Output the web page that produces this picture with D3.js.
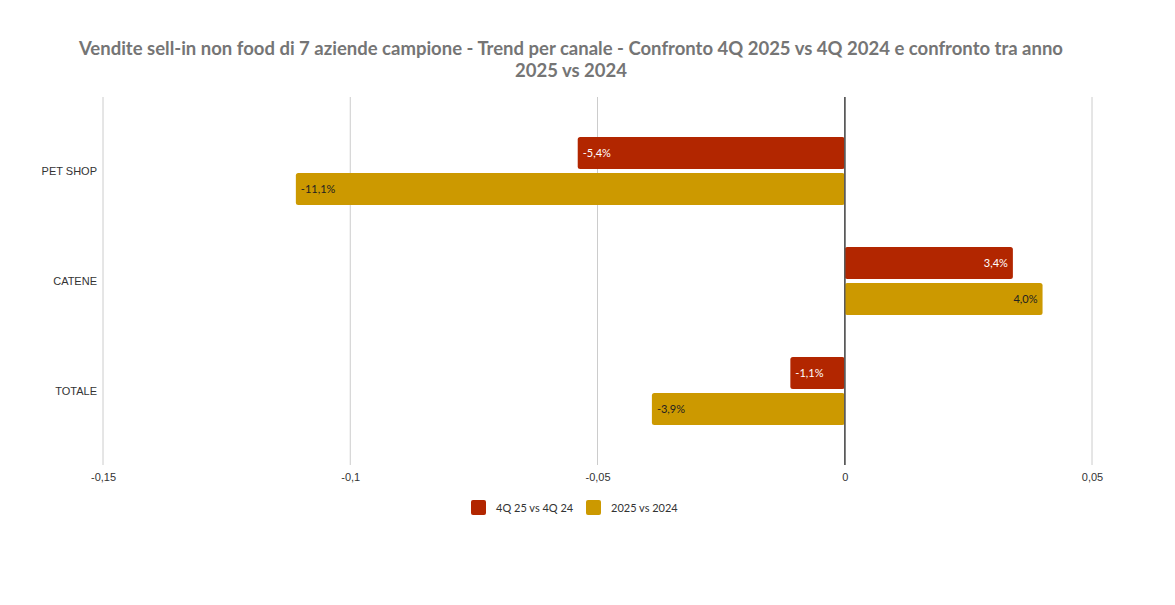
<!DOCTYPE html>
<html>
<head>
<meta charset="utf-8">
<script src="https://cdn.jsdelivr.net/npm/d3@7"></script>
<style>
  body { margin: 0; background: #fff; }
  svg { font-family: Lato, "Open Sans", sans-serif; }
</style>
</head>
<body>
<div id="chart"></div>
<script>
// data
var categories = ["PET SHOP", "CATENE", "TOTALE"];
var seriesNames = ["4Q 25 vs 4Q 24", "2025 vs 2024"];
var quarterValues = [-0.054, 0.034, -0.011];
var yearValues = [-0.111, 0.040, -0.039];
var tickValues = [-0.15, -0.1, -0.05, 0, 0.05];
var colors = ["#B22600", "#CC9900"];

var W = 1175, H = 605;
var plot = { left: 103, right: 1092, top: 97, bottom: 465, bandTop: 116, bandBottom: 446 };

var svg = d3.select("#chart").append("svg")
    .attr("width", W)
    .attr("height", H);

// title
var title = svg.append("text")
    .attr("text-anchor", "middle")
    .style("font-size", "18.5px")
    .style("font-weight", "bold")
    .attr("fill", "#757575");
title.append("tspan").attr("x", 571).attr("y", 55)
    .text("Vendite sell-in non food di 7 aziende campione - Trend per canale - Confronto 4Q 2025 vs 4Q 2024 e confronto tra anno");
title.append("tspan").attr("x", 571).attr("y", 77)
    .text("2025 vs 2024");

var x = d3.scaleLinear()
    .domain([-0.15, 0.05])
    .range([plot.left, plot.right]);

var y = d3.scaleBand()
    .domain(categories)
    .range([plot.bandTop, plot.bandBottom]);

var fmtTick = function (d) { return String(d).replace(".", ","); };
var fmtPct = function (d) { return (d * 100).toFixed(1).replace(".", ",") + "%"; };

// grid
svg.append("g").selectAll("line")
    .data(tickValues)
    .enter().append("line")
    .attr("x1", function (d) { return x(d); })
    .attr("x2", function (d) { return x(d); })
    .attr("y1", plot.top)
    .attr("y2", plot.bottom)
    .style("stroke", function (d) { return d === 0 ? "#5a5a5a" : "#cccccc"; })
    .style("stroke-width", function (d) { return d === 0 ? 1.5 : 1; });

// x axis labels
var xAxis = d3.axisBottom(x).tickValues(tickValues).tickFormat(fmtTick).tickSize(0).tickPadding(8);
var gx = svg.append("g")
    .attr("transform", "translate(0," + plot.bottom + ")")
    .call(xAxis);
gx.select(".domain").remove();
gx.selectAll("text").style("font-size", "11px").attr("fill", "#333");

// y axis labels
var yAxis = d3.axisLeft(y).tickSize(0).tickPadding(6);
var gy = svg.append("g")
    .attr("transform", "translate(" + plot.left + ",0)")
    .call(yAxis);
gy.select(".domain").remove();
gy.selectAll("text").style("font-size", "11px").attr("fill", "#333");

// bars
var barH = 32, gap = 4;
var series = [quarterValues, yearValues];

series.forEach(function (vals, s) {
    var g = svg.append("g");
    var rows = categories.map(function (c, i) { return { cat: c, value: vals[i] }; });
    var offset = function (d) {
        return y(d.cat) + y.bandwidth() / 2 - barH - gap / 2 + s * (barH + gap);
    };
    g.selectAll("rect")
        .data(rows)
        .enter().append("rect")
        .attr("x", function (d) { return Math.min(x(0), x(d.value)); })
        .attr("y", offset)
        .attr("width", function (d) { return Math.abs(x(d.value) - x(0)); })
        .attr("height", barH)
        .attr("rx", 2.5)
        .style("fill", colors[s]);

    g.selectAll("text")
        .data(rows)
        .enter().append("text")
        .attr("x", function (d) { return d.value < 0 ? x(d.value) + 5 : x(d.value) - 5; })
        .attr("y", function (d) { return offset(d) + barH / 2; })
        .attr("dy", "0.35em")
        .attr("text-anchor", function (d) { return d.value < 0 ? "start" : "end"; })
        .style("font-size", "11px")
        .attr("fill", s === 0 ? "#ffffff" : "#222222")
        .text(function (d) { return fmtPct(d.value); });
});

// redraw zero line above bars
svg.append("line")
    .attr("x1", x(0)).attr("x2", x(0))
    .attr("y1", plot.top).attr("y2", plot.bottom)
    .style("stroke", "#5a5a5a")
    .style("stroke-width", 1.5);

// legend
var legendX = [471, 586];
var legend = svg.append("g");
seriesNames.forEach(function (name, i) {
    legend.append("rect")
        .attr("x", legendX[i]).attr("y", 500)
        .attr("width", 15).attr("height", 15)
        .attr("rx", 2)
        .style("fill", colors[i]);
    legend.append("text")
        .attr("x", legendX[i] + 25).attr("y", 508)
        .attr("dy", "0.35em")
        .style("font-size", "11px")
        .attr("fill", "#333")
        .text(name);
});
</script>
</body>
</html>
